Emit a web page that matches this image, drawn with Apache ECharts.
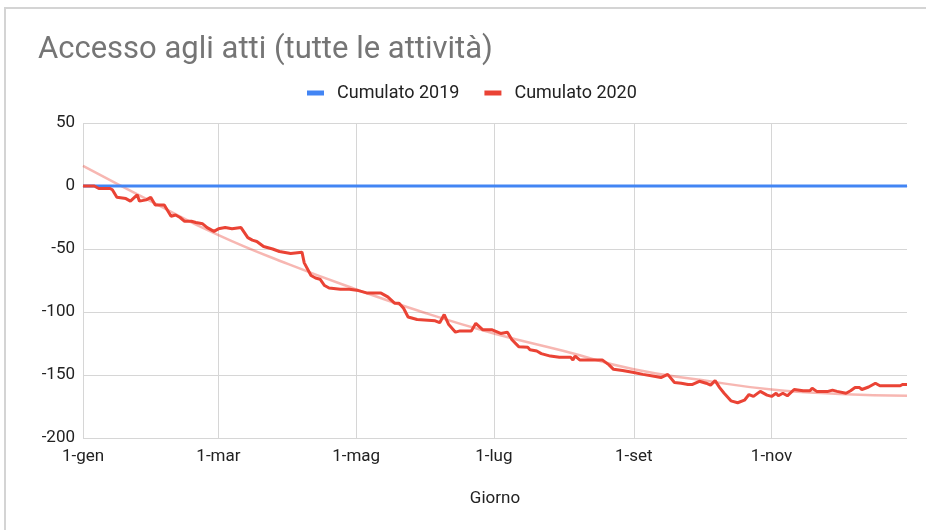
<!DOCTYPE html>
<html>
<head>
<meta charset="utf-8">
<title>Accesso agli atti</title>
<script src="https://cdn.jsdelivr.net/npm/echarts@6/dist/echarts.min.js"></script>
<style>
  html, body { margin: 0; padding: 0; background: #fff; overflow: hidden; }
  #frame {
    position: absolute; left: 4px; top: 7px;
    width: 1000px; height: 1000px;
    border: 2px solid #d4d4d4;
  }
  #chart { position: absolute; left: 0; top: 0; width: 926px; height: 530px; }
</style>
</head>
<body>
<div id="frame"></div>
<div id="chart"></div>
<script>
// asse x: un'etichetta per ogni giorno del 2020
const mesi = ['gen', 'feb', 'mar', 'apr', 'mag', 'giu', 'lug', 'ago', 'set', 'ott', 'nov', 'dic']
const giorniMese = [31, 29, 31, 30, 31, 30, 31, 31, 30, 31, 30, 31]
const etichetteVisibili = ['1-gen', '1-mar', '1-mag', '1-lug', '1-set', '1-nov']

// Cumulato 2019 (linea piatta a zero)
const date2019 = ['1-gen', '31-dic']
const cumulato2019 = [0, 0]

// Cumulato 2020
const date2020 = [
  '1-gen', '6-gen', '8-gen', '13-gen', '14-gen', '16-gen', '20-gen', '22-gen', '25-gen', '26-gen', '29-gen', '31-gen',
  '2-feb', '6-feb', '7-feb', '9-feb', '11-feb', '13-feb', '15-feb', '18-feb', '20-feb', '23-feb', '25-feb', '28-feb',
  '1-mar', '4-mar', '7-mar', '11-mar', '14-mar', '16-mar', '18-mar', '21-mar', '25-mar', '28-mar',
  '2-apr', '7-apr', '8-apr', '11-apr', '13-apr', '15-apr', '17-apr', '19-apr', '24-apr', '28-apr',
  '2-mag', '6-mag', '12-mag', '15-mag', '18-mag', '20-mag', '22-mag', '24-mag', '28-mag',
  '5-giu', '7-giu', '9-giu', '11-giu', '14-giu', '16-giu', '21-giu', '23-giu', '26-giu', '30-giu',
  '4-lug', '7-lug', '9-lug', '12-lug', '16-lug', '17-lug', '20-lug', '22-lug', '26-lug', '30-lug',
  '4-ago', '5-ago', '6-ago', '8-ago', '18-ago', '21-ago', '23-ago', '27-ago',
  '1-set', '5-set', '10-set', '13-set', '16-set', '19-set', '22-set', '25-set', '27-set', '30-set',
  '3-ott', '5-ott', '7-ott', '9-ott', '11-ott', '14-ott', '17-ott', '20-ott', '22-ott', '24-ott', '27-ott', '30-ott',
  '1-nov', '3-nov', '4-nov', '6-nov', '8-nov', '11-nov', '15-nov', '18-nov', '19-nov', '21-nov', '26-nov', '28-nov', '30-nov',
  '4-dic', '6-dic', '8-dic', '10-dic', '11-dic', '14-dic', '17-dic', '19-dic', '28-dic', '29-dic', '31-dic'
]
const cumulato2020 = [
  0, 0, -2, -2, -3, -9, -10, -12, -7, -12, -11, -9,
  -15, -15, -18, -24, -23, -25, -28, -28, -29, -30, -33, -36,
  -34, -33, -34, -33, -41, -43, -44, -48, -50, -52,
  -53.5, -52.5, -61, -71, -73, -74, -79, -81, -82, -82,
  -83, -85, -85, -88, -93, -93, -97, -104, -106,
  -107, -108.5, -102, -110, -116, -115, -115, -109, -114, -114,
  -117, -116, -122, -127.5, -128, -130, -131, -133, -135, -136,
  -136, -138, -135, -138, -138, -142, -145.5, -146.5,
  -148, -149.5, -151, -152, -149.5, -156, -156.5, -157.5, -157.5, -155,
  -156.5, -158, -154.5, -160, -164.5, -170.5, -172, -170, -165.5, -167, -163, -166,
  -167, -164.5, -166.5, -164.5, -166.5, -161.5, -162.5, -162.5, -160.5, -163, -163, -162, -163,
  -164.5, -162.5, -160, -160, -161.5, -159.5, -156.5, -158.5, -158.5, -157.5, -157.5
]

// linea di tendenza
const dateTendenza = ['1-gen', '1-feb', '1-mar', '1-apr', '1-mag', '1-giu', '1-lug', '1-ago', '1-set', '1-ott', '1-nov', '1-dic', '31-dic']
const tendenza = [16, -13, -39, -62, -82, -101, -117, -131, -145.5, -154, -161.5, -165, -166.5]

const giorni = []
mesi.forEach((m, i) => {
  for (let d = 1; d <= giorniMese[i]; d++) giorni.push(d + '-' + m)
})

const coppie = (x, y) => x.map((d, i) => [d, y[i]])
const mostra = (idx, val) => etichetteVisibili.includes(giorni[idx])

const font = 'Roboto, "Liberation Sans", Arial, sans-serif'
const gridColor = '#d6d6d6'

const chart = echarts.init(document.getElementById('chart'), null, { renderer: 'canvas' })
chart.setOption({
  backgroundColor: 'transparent',
  animation: false,
  textStyle: { fontFamily: font },
  title: {
    text: 'Accesso agli atti (tutte le attività)',
    left: 33,
    top: 30,
    textStyle: { fontSize: 31, fontWeight: 'normal', color: '#757575', fontFamily: font }
  },
  legend: {
    data: ['Cumulato 2019', 'Cumulato 2020'],
    left: 302,
    top: 79,
    itemWidth: 17,
    itemHeight: 5,
    itemGap: 25,
    icon: 'rect',
    textStyle: { fontSize: 18, color: '#222', padding: [0, 0, 0, 8], fontFamily: font }
  },
  grid: { left: 83, right: 19, top: 123, bottom: 92, containLabel: false },
  xAxis: {
    type: 'category',
    data: giorni,
    boundaryGap: false,
    name: 'Giorno',
    nameLocation: 'middle',
    nameGap: 52,
    nameTextStyle: { fontSize: 17, color: '#222', fontFamily: font },
    axisLine: { lineStyle: { color: gridColor } },
    axisTick: { show: false },
    axisLabel: { interval: mostra, fontSize: 17, color: '#222', margin: 10, fontFamily: font },
    splitLine: { show: true, interval: mostra, lineStyle: { color: gridColor, width: 1 } }
  },
  yAxis: {
    type: 'value',
    min: -200,
    max: 50,
    interval: 50,
    axisLine: { show: false },
    axisTick: { show: false },
    axisLabel: { fontSize: 17, color: '#222', margin: 8, fontFamily: font },
    splitLine: { lineStyle: { color: gridColor, width: 1 } }
  },
  series: [
    {
      name: 'Tendenza',
      type: 'line',
      data: coppie(dateTendenza, tendenza),
      smooth: true,
      symbol: 'none',
      silent: true,
      lineStyle: { color: 'rgba(234, 67, 53, 0.38)', width: 2.5 },
      z: 1
    },
    {
      name: 'Cumulato 2019',
      type: 'line',
      data: coppie(date2019, cumulato2019),
      symbol: 'none',
      itemStyle: { color: '#4285f4' },
      lineStyle: { color: '#4285f4', width: 3 },
      z: 2
    },
    {
      name: 'Cumulato 2020',
      type: 'line',
      data: coppie(date2020, cumulato2020),
      symbol: 'none',
      itemStyle: { color: '#ea4335' },
      lineStyle: { color: '#ea4335', width: 3 },
      z: 3
    }
  ]
})
</script>
</body>
</html>
